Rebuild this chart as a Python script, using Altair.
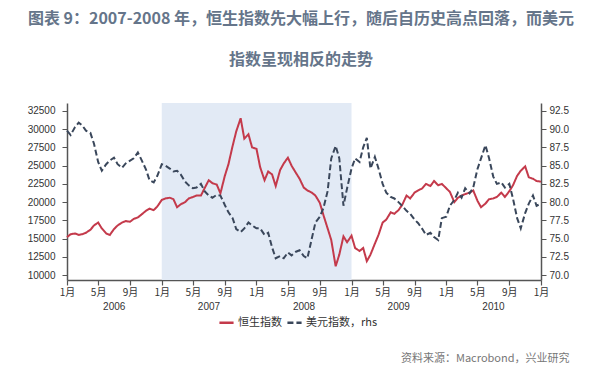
import altair as alt
import pandas as pd

# ---------------- data (semi-monthly readings from the picture) ----------------
dates = pd.date_range("2006-01-01", "2011-01-01", freq="SMS")  # 1st & 15th of month

hsi_2006 = [15200, 15600, 15700, 15500, 15600, 15800, 16200, 16800, 17200, 16400, 15700, 15500,
            16300, 16800, 17200, 17400, 17300, 17700, 17900, 18300, 18800, 19100, 18900, 19400]
hsi_2007 = [20300, 20500, 20600, 20400, 19300, 19700, 20000, 20500, 20700, 20900, 20900, 21900,
            23000, 22600, 22400, 21200, 23600, 25200, 27700, 29700, 31500, 28700, 29300, 27500]
hsi_2008 = [27300, 24800, 23000, 24200, 23800, 22200, 24400, 25300, 26100, 25000, 24000, 23200,
            22000, 21600, 21300, 20900, 19900, 18200, 16400, 14800, 11200, 12800, 15300, 14500]
hsi_2009 = [15400, 13700, 13300, 13700, 11900, 12800, 14300, 15500, 17200, 17600, 18600, 18400,
            18900, 19600, 20900, 20500, 21300, 21600, 21900, 22500, 22200, 22900, 22300, 22500]
hsi_2010 = [21900, 21400, 20000, 20600, 20900, 21100, 21300, 21600, 20200, 19300, 19800, 20400,
            20500, 20700, 21300, 20700, 21500, 22300, 23600, 24300, 24900, 23400, 23200, 22900]
hsi_2011 = [22800]

usd_2006 = [89.8, 89.2, 90.3, 90.9, 90.5, 89.8, 89.5, 88.0, 85.5, 84.3, 85.2, 85.7,
            86.1, 85.2, 84.7, 85.3, 85.7, 86.0, 86.8, 85.8, 84.5, 83.0, 82.7, 83.6]
usd_2007 = [85.2, 85.0, 84.6, 84.2, 84.3, 83.8, 82.8, 82.3, 81.9, 82.0, 82.5, 81.5,
            80.9, 80.6, 81.0, 80.9, 79.6, 78.6, 77.8, 76.3, 75.9, 76.4, 77.2, 76.8]
usd_2008 = [76.4, 76.4, 75.5, 75.8, 73.8, 72.3, 72.6, 72.3, 73.1, 72.7, 73.2, 73.4,
            72.6, 72.3, 75.0, 77.2, 78.0, 79.2, 81.5, 86.0, 87.7, 86.0, 79.5, 81.9]
usd_2009 = [84.6, 86.0, 85.5, 87.5, 88.8, 84.6, 86.2, 84.6, 82.5, 81.3, 80.7, 80.5,
            80.0, 79.5, 78.8, 78.4, 77.6, 77.1, 76.3, 75.5, 75.8, 75.2, 74.8, 77.8]
usd_2010 = [78.0, 79.5, 80.3, 81.3, 80.6, 81.9, 81.2, 82.0, 84.5, 86.0, 87.8, 86.0,
            83.5, 82.5, 82.7, 82.0, 82.5, 80.5, 77.8, 76.4, 78.5, 79.8, 80.9, 79.5]
usd_2011 = [79.8]

series_names = ["恒生指数", "美元指数，rhs"]
years = ["2006", "2007", "2008", "2009", "2010"]
year_mid = ["2006-07-02", "2007-07-02", "2008-07-02", "2009-07-02", "2010-07-02"]
left_ticks = [10000, 12500, 15000, 17500, 20000, 22500, 25000, 27500, 30000, 32500]
right_ticks = [70.0, 72.5, 75.0, 77.5, 80.0, 82.5, 85.0, 87.5, 90.0, 92.5]
tick_months = [1, 5, 9]
shade_start, shade_end = "2007-01-01", "2009-01-01"
title_lines = ["图表 9：2007-2008 年，恒生指数先大幅上行，随后自历史高点回落，而美元",
               "指数呈现相反的走势"]
source_text = "资料来源：Macrobond，兴业研究"

hsi = hsi_2006 + hsi_2007 + hsi_2008 + hsi_2009 + hsi_2010 + hsi_2011
usd = usd_2006 + usd_2007 + usd_2008 + usd_2009 + usd_2010 + usd_2011

df_h = pd.DataFrame({"date": dates, "value": hsi, "series": series_names[0]})
df_u = pd.DataFrame({"date": dates, "value": usd, "series": series_names[1]})
df_shade = pd.DataFrame({"date": [shade_start], "end": [shade_end]})
df_years = pd.DataFrame({"date": year_mid, "label": years})
df_src = pd.DataFrame({"t": [source_text]})

# ---------------- styling ----------------
W, H = 474, 177
RED, NAVY = "#c43a4b", "#3a475b"
AX = "#555555"

tick_vals = [alt.DateTime(year=y, month=m, date=1) for y in range(2006, 2011) for m in tick_months]
tick_vals.append(alt.DateTime(year=2011, month=1, date=1))

x_scale = alt.Scale(domain=[alt.DateTime(year=2006, month=1, date=1),
                            alt.DateTime(year=2011, month=1, date=1)])
x_axis = alt.Axis(values=tick_vals, labelExpr="(month(datum.value)+1) + '月'",
                  title=None, grid=False, domainColor=AX, domainWidth=1.5,
                  tickColor=AX, tickSize=5, tickWidth=1.2, labelFont="Noto Sans CJK SC",
                  labelFontSize=10, labelColor="#333333", labelPadding=2, labelAngle=0,
                  labelOverlap=False, labelFlush=False, labelBound=False)
x_enc = alt.X("date:T", scale=x_scale, axis=x_axis)

legend = alt.Legend(title=None, orient="none", legendX=151, legendY=211, direction="horizontal",
                    symbolType="stroke", symbolSize=200, symbolStrokeWidth=2.5,
                    labelFont="Noto Sans CJK SC", labelFontSize=11, labelColor="#333333",
                    columnPadding=0, labelOffset=3)
color_enc = alt.Color("series:N", scale=alt.Scale(domain=series_names, range=[RED, NAVY]),
                      legend=legend)
dash_enc = alt.StrokeDash("series:N", scale=alt.Scale(domain=series_names, range=[[1, 0], [6, 3]]),
                          legend=legend)

shade = alt.Chart(df_shade).mark_rect(color="#e2eaf5").encode(
    x=x_enc, x2="end:T", y=alt.value(0), y2=alt.value(H))

red = alt.Chart(df_h).mark_line(strokeWidth=2).encode(
    x=x_enc,
    y=alt.Y("value:Q", scale=alt.Scale(domain=[9320, 33590], nice=False, zero=False),
            axis=alt.Axis(values=left_ticks, format="d", title=None, grid=False,
                          domainColor=AX, domainWidth=1.5, tickColor=AX, tickSize=5,
                          labelPadding=7, labelFont="Liberation Sans", labelFontSize=10,
                          labelColor="#333333")),
    color=color_enc, strokeDash=dash_enc)

blue = alt.Chart(df_u).mark_line(strokeWidth=2).encode(
    x=x_enc,
    y=alt.Y("value:Q", scale=alt.Scale(domain=[69.32, 93.59], nice=False, zero=False),
            axis=alt.Axis(values=right_ticks, format=".1f", title=None, grid=False, orient="right",
                          domainColor=AX, domainWidth=1.5, tickColor=AX, tickSize=5,
                          labelPadding=3, labelFont="Liberation Sans", labelFontSize=10,
                          labelColor="#333333")),
    color=color_enc, strokeDash=dash_enc)

year_text = alt.Chart(df_years).mark_text(font="Liberation Sans", fontSize=10, color="#333333",
                                          baseline="middle").encode(
    x=x_enc, y=alt.value(H + 27), text="label:N")

src = alt.Chart(df_src).mark_text(font="Noto Sans CJK SC", fontSize=11, color="#777777",
                                  align="left", baseline="middle").encode(
    x=alt.value(334), y=alt.value(256), text="t:N")

chart = alt.layer(shade, red, blue, year_text, src).resolve_scale(y="independent").properties(
    width=W, height=H,
    autosize="none",
    padding={"left": 59, "top": 95, "right": 52, "bottom": 90},
    title=alt.TitleParams(text=title_lines, anchor="middle", font="Noto Sans CJK SC", fontSize=16,
                          fontWeight="bold", color="#65758a", lineHeight=41, offset=35, dx=-3),
).configure_view(stroke=None).configure_axisX(labelOverlap=False)

chart.save("out.html", embed_options={"renderer": "svg", "actions": False})
